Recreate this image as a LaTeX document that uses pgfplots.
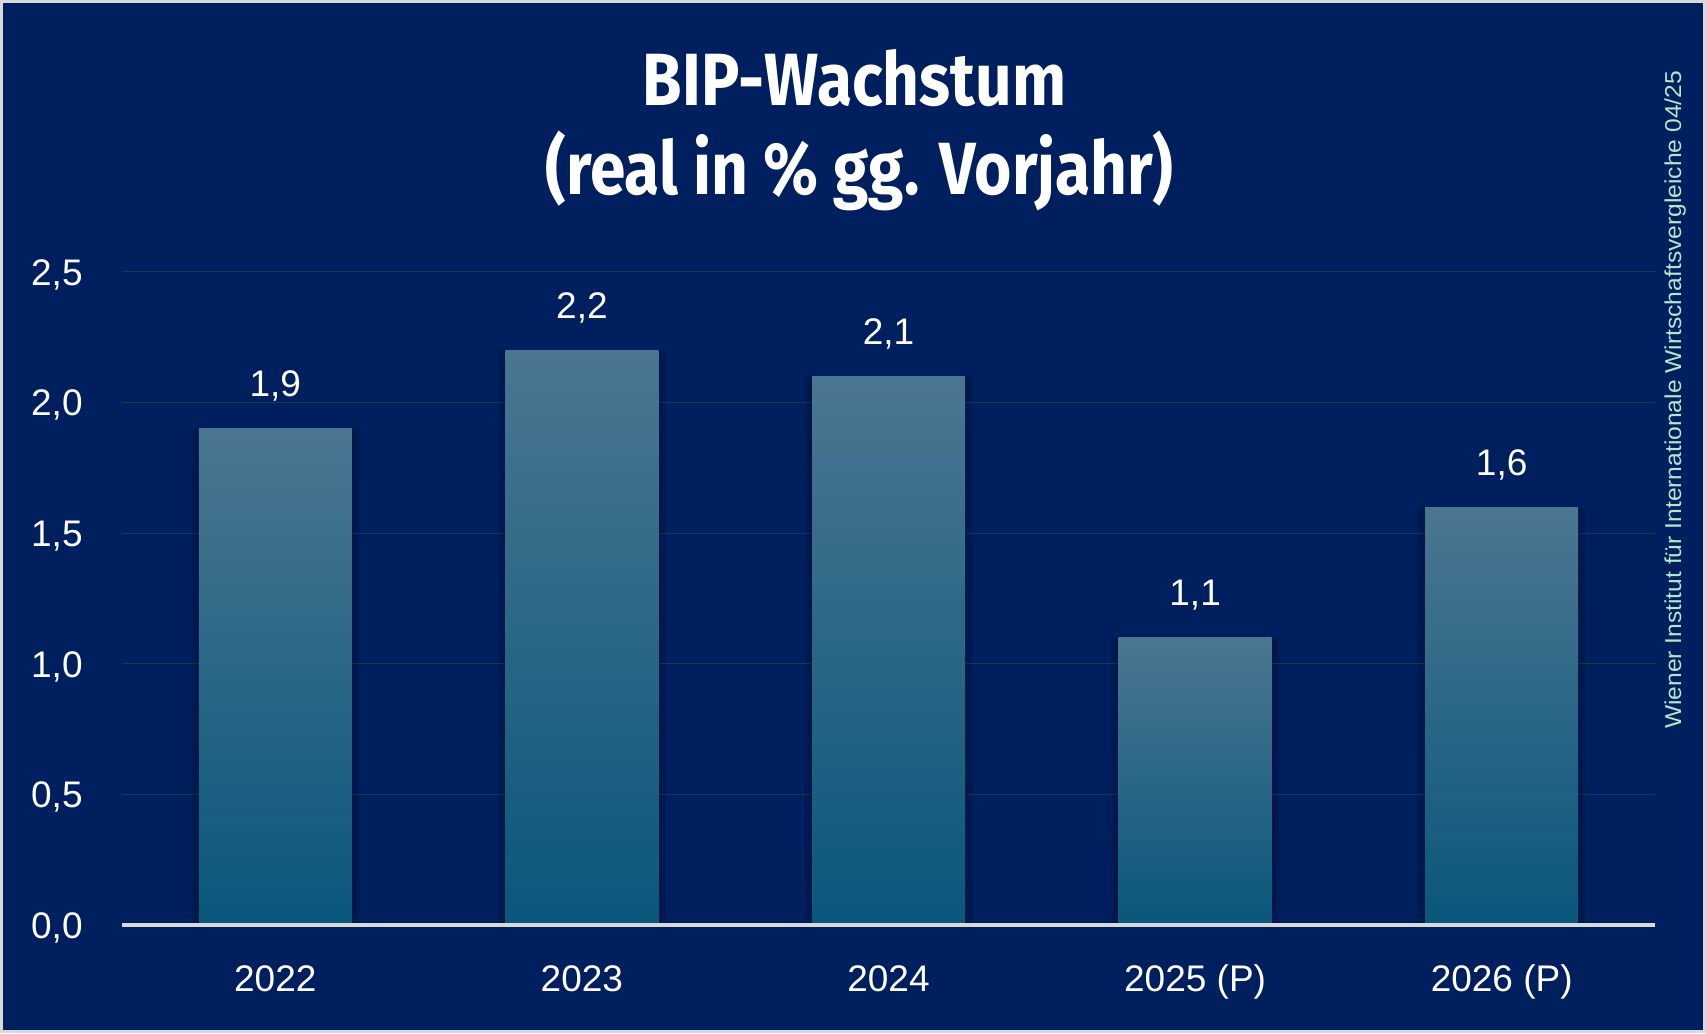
\documentclass[border=0pt]{standalone}
\usepackage{fontspec}
\setmainfont{Liberation Sans}
\newfontfamily\titlefont[FakeStretch=0.865]{Fira Sans}
\newfontfamily\srcfont[FakeStretch=1.07]{Liberation Sans}
\usepackage{pgfplots}
\pgfplotsset{compat=1.18}
\definecolor{bgnavy}{RGB}{0,31,95}
\definecolor{framegray}{RGB}{217,217,217}
\definecolor{gridc}{RGB}{22,62,74}
\definecolor{bartop}{RGB}{75,118,145}
\definecolor{barmid}{RGB}{17,97,136}
\definecolor{barbot}{RGB}{9,87,123}
\definecolor{srcgreen}{RGB}{178,232,200}
\pgfplotsset{
  shadowbar/.style={draw=none, fill=black, fill opacity=0.12, nodes near coords={}, forget plot, bar shift=0pt},
  gradbar/.style={draw=none, top color=bartop, middle color=barmid, bottom color=barbot, bar shift=0pt},
}
\begin{document}
\begin{tikzpicture}[x=1pt,y=1pt]
\fill[framegray] (0,0) rectangle (853,516.5);
\fill[bgnavy] (1.5,1.5) rectangle (851.5,515);
\begin{axis}[
  at={(61pt,54pt)}, anchor=south west,
  scale only axis, width=766.5pt, height=326.5pt,
  xmin=-0.5, xmax=4.5, ymin=0, ymax=2.5,
  axis line style={draw=none},
  ytick={0,0.5,1,1.5,2,2.5},
  xtick={0,1,2,3,4},
  xticklabels={2022,2023,2024,2025 (P),2026 (P)},
  major tick length=0pt,
  tick style={draw=none},
  ymajorgrids,
  grid style={gridc, line width=0.5pt},
  /pgf/number format/.cd, use comma, fixed, fixed zerofill, precision=1, assume math mode=true,
  /pgfplots/.cd,
  tick label style={font=\fontsize{18.5}{20}\selectfont, text=white, inner sep=0pt},
  yticklabel style={anchor=base east, xshift=-19.5pt, yshift=-6.7pt},
  xticklabel style={anchor=base, yshift=-33pt},
  ybar, bar width=76.5pt,
  nodes near coords,
  every node near coord/.append style={font=\fontsize{18.5}{20}\selectfont, text=white, anchor=base, yshift=16pt, inner sep=0pt},
  clip=false,
]
\addplot[shadowbar, bar width=84pt] coordinates {(0,1.9) (1,2.2) (2,2.1) (3,1.1) (4,1.6)};
\addplot[shadowbar, bar width=80pt] coordinates {(0,1.9) (1,2.2) (2,2.1) (3,1.1) (4,1.6)};
\addplot[gradbar] coordinates {(0,1.9)};
\addplot[gradbar] coordinates {(1,2.2)};
\addplot[gradbar] coordinates {(2,2.1)};
\addplot[gradbar] coordinates {(3,1.1)};
\addplot[gradbar] coordinates {(4,1.6)};
\end{axis}
\draw[framegray, line width=2pt] (61,54) -- (827.5,54);
\node[anchor=base, text=white, inner sep=0pt, font=\titlefont\bfseries\fontsize{37}{40}\selectfont] at (427.25,463.5) {BIP-Wachstum};
\node[anchor=base, text=white, inner sep=0pt, font=\titlefont\bfseries\fontsize{37}{40}\selectfont] at (429.75,419) {(real in \% gg. Vorjahr)};
\node[rotate=90, anchor=base, text=srcgreen, inner sep=0pt, font=\srcfont\fontsize{11.5}{13}\selectfont] at (840.5,316.5) {Wiener Institut für Internationale Wirtschaftsvergleiche 04/25};
\end{tikzpicture}
\end{document}
